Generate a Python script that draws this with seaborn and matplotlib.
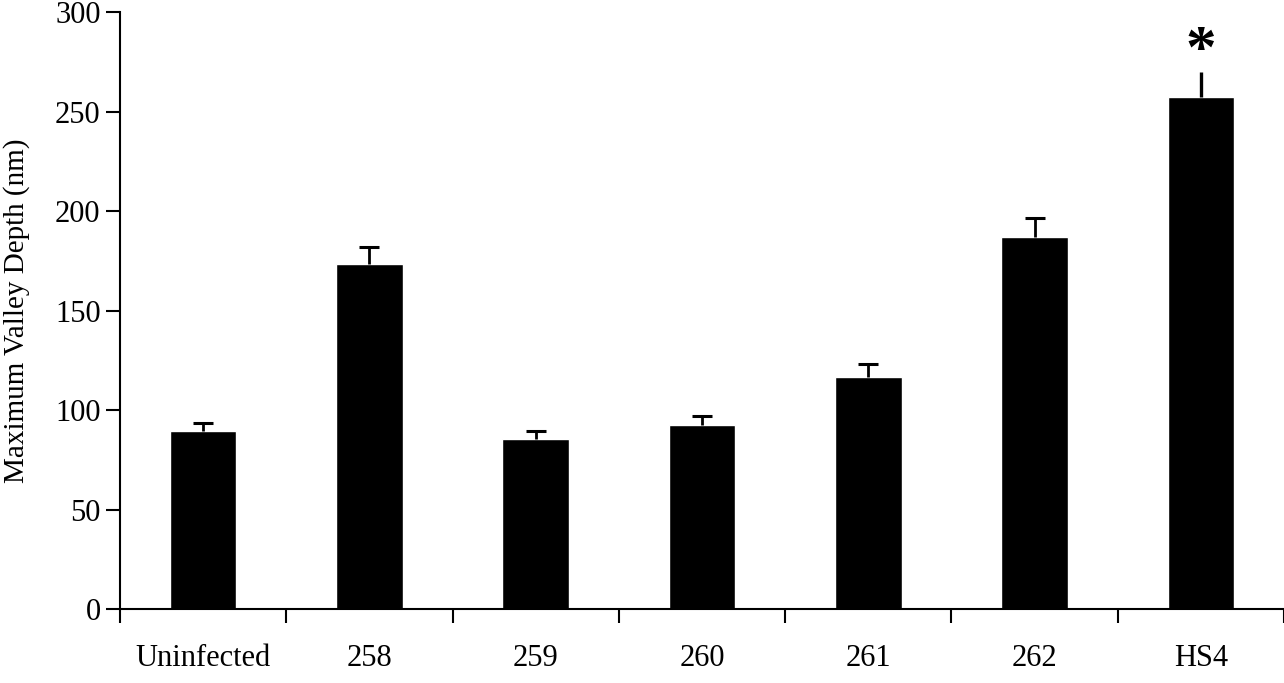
import numpy as np
import pandas as pd
import matplotlib
matplotlib.use("Agg")
import matplotlib.pyplot as plt
import seaborn as sns

groups = ["Uninfected", "258", "259", "260", "261", "262", "HS4"]
depth = [89.5, 173.5, 85.5, 92.5, 116.5, 187.0, 257.5]
err = [4.0, 8.5, 4.0, 4.5, 6.5, 9.5, 12.5]
star_group = "HS4"

sns.set_style("white")
plt.rcParams["font.family"] = ["Liberation Serif", "DejaVu Serif"]
plt.rcParams["text.color"] = "black"
plt.rcParams["axes.labelcolor"] = "black"
plt.rcParams["xtick.color"] = "black"
plt.rcParams["ytick.color"] = "black"

df = pd.DataFrame({"group": groups, "depth": depth})

fig = plt.figure(figsize=(12.84, 6.83), dpi=100)
ax = fig.add_axes([0.0935, 0.1083, 0.9065, 0.874])

sns.barplot(data=df, x="group", y="depth", color="black", width=0.4,
            saturation=1, ax=ax, errorbar=None)

x = np.arange(len(groups))
capped = np.array([g != star_group for g in groups])
lower = np.zeros(len(groups))
up = np.array(err)
dep = np.array(depth)
eb = ax.errorbar(x[capped], dep[capped], yerr=[lower[capped], up[capped]],
                 fmt="none", ecolor="black", elinewidth=2.0, capsize=7,
                 capthick=2.2)
# only the upper cap is shown
eb[1][0].set_visible(False)
ax.errorbar(x[~capped], dep[~capped], yerr=[lower[~capped], up[~capped]],
            fmt="none", ecolor="black", elinewidth=2.4, capsize=0)

i = groups.index(star_group)
ax.text(i, 280, "*", ha="center", va="center",
        fontsize=44, fontweight="bold")

ax.set_xlim(-0.5, len(groups) - 0.5)
ax.set_ylim(0, 300)
ax.set_yticks(range(0, 301, 50))
ax.set_xticks(np.arange(-0.5, len(groups), 1.0))
ax.set_xticklabels([])
ax.set_xticks(x, minor=True)
ax.set_xticklabels(groups, minor=True)
ax.tick_params(axis="x", which="major", direction="out", length=10, width=1.5,
               bottom=True)
ax.tick_params(axis="x", which="minor", length=0, pad=25, labelsize=22)
ax.tick_params(axis="y", direction="out", length=10, width=1.5, left=True,
               labelsize=22, pad=4)

ax.set_xlabel("")
ax.set_ylabel("Maximum Valley Depth (nm)", fontsize=21, labelpad=18)

for s in ["top", "right"]:
    ax.spines[s].set_visible(False)
for s in ["left", "bottom"]:
    ax.spines[s].set_linewidth(1.5)
    ax.spines[s].set_color("black")

fig.savefig("out.png", dpi=100)
